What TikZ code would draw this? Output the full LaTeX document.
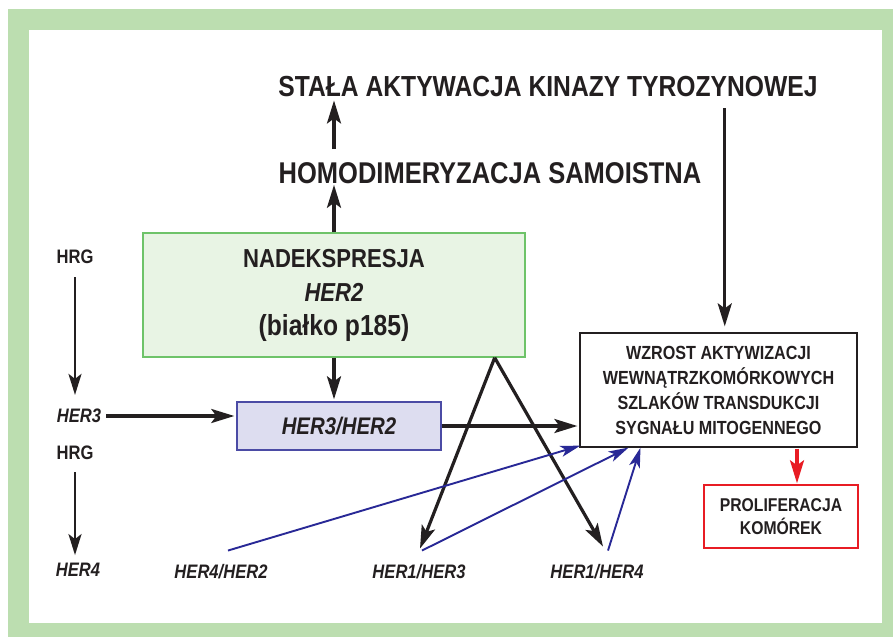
\documentclass[tikz,border=0pt]{standalone}
\usepackage{fontspec}
\setmainfont[FakeStretch=0.85]{Liberation Sans}
\usetikzlibrary{positioning,arrows.meta,calc}
\definecolor{frame}{RGB}{188,222,176}
\definecolor{ink}{RGB}{35,31,32}
\definecolor{grnfill}{RGB}{232,244,228}
\definecolor{grnline}{RGB}{110,195,105}
\definecolor{lavfill}{RGB}{221,221,240}
\definecolor{lavline}{RGB}{75,75,165}
\definecolor{arblue}{RGB}{40,40,150}
\definecolor{redline}{RGB}{232,28,36}
\newcommand{\gen}[1]{\textit{#1}}
\newcommand{\fsz}[2]{\fontsize{#1}{#2}\selectfont}

\begin{document}
\begin{tikzpicture}[x=1pt,y=-1pt,text=ink,
  blk/.style={draw,line width=1.4pt,inner sep=0pt,align=center},
  hd/.style={font=\bfseries\fsz{29}{29},inner sep=0pt},
  ar/.style={-{Stealth[length=21pt,width=13pt,inset=5pt]},line width=2.4pt,draw=ink},
  thk/.style={ar,line width=3.2pt,-{Stealth[length=23pt,width=14pt,inset=5pt]}},
  blu/.style={-{Stealth[length=20pt,width=11pt,inset=5pt]},line width=1.9pt,draw=arblue},
  rar/.style={thk,draw=redline},
  lbl/.style={font=\bfseries\fsz{19.5}{20},inner sep=0pt}]
\useasboundingbox (0,0) rectangle (893,639);
\fill[frame] (8,9) rectangle (893,637);
\fill[white] (29,30) rectangle (882,623);
% top texts
\node[hd] (title) at (548,87) {STAŁA AKTYWACJA KINAZY TYROZYNOWEJ};
\node[hd,font=\bfseries\fsz{30}{30}] (homo) at (490,173) {HOMODIMERYZACJA SAMOISTNA};
% boxes
\node[blk,fill=grnfill,draw=grnline,minimum width=382,minimum height=124,
  font=\bfseries\fsz{26}{34}] (grn) at (334,295)
  {NADEKSPRESJA\\\gen{HER2}\\{\fsz{29}{34}(białko p185)}};
\node[blk,fill=lavfill,draw=lavline,minimum width=204,minimum height=48,
  font=\bfseries\fsz{24}{24}] (h32) at (339,426) {\gen{HER3/HER2}};
\node[blk,draw=ink,line width=1.2pt,minimum width=277,minimum height=114,
  font=\bfseries\fsz{19}{25}] (wz) at (718.5,390)
  {WZROST AKTYWIZACJI\\WEWNĄTRZKOMÓRKOWYCH\\SZLAKÓW TRANSDUKCJI\\SYGNAŁU MITOGENNEGO};
\node[blk,draw=redline,minimum width=154,minimum height=63,
  font=\bfseries\fsz{18.5}{23}] (prol) at (781,516.5) {PROLIFERACJA\\KOMÓREK};
% left column and bottom labels
\node[lbl] (hrg1) at (75,257) {HRG};
\node[lbl] (her3) at (79,416) {\gen{HER3}};
\node[lbl] (hrg2) at (75,453) {HRG};
\node[lbl] (her4) at (78,570) {\gen{HER4}};
\node[lbl] (h42) at (221,572) {\gen{HER4/HER2}};
\node[lbl] (h13) at (419,572) {\gen{HER1/HER3}};
\node[lbl] (h14) at (597,572) {\gen{HER1/HER4}};
\coordinate (apex) at ($(grn.south east)+(-31,0)$);
\coordinate (t1) at ($(title.south east)+(-93,0)$);
\coordinate (r1) at ($(prol.north)+(16,0)$);
% connectors
\draw[thk,shorten <=13pt,shorten >=3pt] (homo.north -| grn.north) -- (grn.north |- title.south);
\draw[thk,shorten >=1pt] (grn.north) -- (grn.north |- homo.south);
\draw[thk,shorten <=11pt,shorten >=6pt] (t1) -- (t1 |- wz.north);
\draw[thk,shorten >=2pt] (grn.south) -- (grn.south |- h32.north);
\draw[thk,shorten >=2pt] (h32.east) -- (h32.east -| wz.west);
\draw[thk,shorten <=5pt,shorten >=2pt] (her3.east) -- (her3.east -| h32.west);
\draw[ar,shorten <=13pt,shorten >=14pt] (hrg1.south) -- (hrg1.south |- her3.north);
\draw[ar,shorten <=12pt,shorten >=8pt] (hrg2.south) -- (hrg2.south |- her4.north);
\draw[thk] (apex) -- ($(h13.north)+(1,-16)$);
\draw[thk] (apex) -- ($(h14.north)+(6,-18)$);
\draw[blu] ($(h42.north)+(7,-14)$) -- ($(wz.south west)+(1,-2)$);
\draw[blu] ($(h13.north)+(3,-14)$) -- ($(wz.south)+(-90,0)$);
\draw[blu] ($(h14.north)+(11,-14)$) -- ($(wz.south)+(-78,0)$);
\draw[rar,shorten <=1pt,shorten >=1pt] (r1 |- wz.south) -- (r1);
\end{tikzpicture}
\end{document}
